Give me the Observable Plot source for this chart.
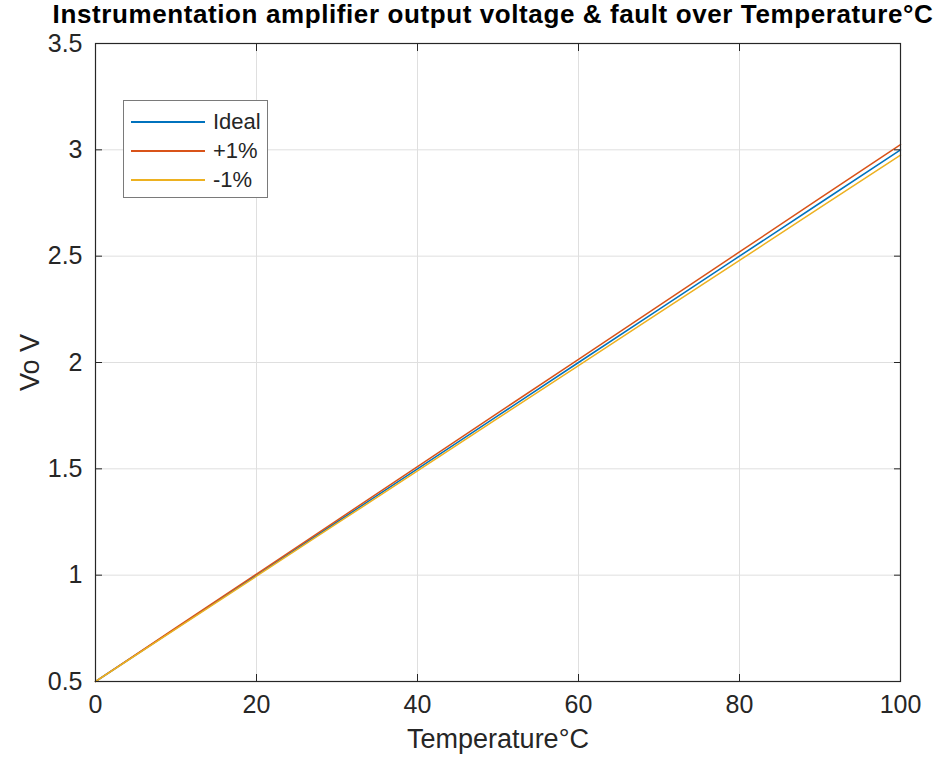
<!DOCTYPE html>
<html>
<head>
<meta charset="utf-8">
<script src="https://cdn.jsdelivr.net/npm/d3@7"></script>
<script src="https://cdn.jsdelivr.net/npm/@observablehq/plot@0.6"></script>
<style>
  html, body { margin: 0; padding: 0; background: #fff; }
  #wrap { position: relative; width: 943px; height: 760px; overflow: hidden; }
  #title { position: absolute; left: 0; top: 1px; width: 986px; text-align: center;
    font: bold 26px/26px "Liberation Sans", Arial, sans-serif; color: #000; white-space: nowrap;
    letter-spacing: 0.6px; }
  #chart { position: absolute; left: 0; top: 42px; }
  #legend { position: absolute; left: 123px; top: 100px; width: 145px; height: 98px;
    border: 1px solid #7a7a7a; background: #fff; box-sizing: border-box;
    font: 22px "Liberation Sans", Arial, sans-serif; color: #262626; }
  .item { position: absolute; left: 7px; height: 24px; display: flex; align-items: center; }
  .swatch { width: 74px; height: 1.5px; margin-right: 8px; }
</style>
</head>
<body>
<div id="wrap">
  <div id="title"></div>
  <div id="chart"></div>
  <div id="legend"></div>
</div>
<script>
const titleText = "Instrumentation amplifier output voltage & fault over Temperature°C";
const xLabel = "Temperature°C";
const yLabel = "Vo V";
const xTicks = [0, 20, 40, 60, 80, 100];
const yTicks = [0.5, 1, 1.5, 2, 2.5, 3, 3.5];

const temperature = [0, 10, 20, 30, 40, 50, 60, 70, 80, 90, 100];
const ideal = [0.5, 0.75, 1.0, 1.25, 1.5, 1.75, 2.0, 2.25, 2.5, 2.75, 3.0];
const plus1 = [0.5, 0.753, 1.005, 1.258, 1.51, 1.763, 2.015, 2.268, 2.52, 2.773, 3.025];
const minus1 = [0.5, 0.748, 0.995, 1.243, 1.49, 1.738, 1.985, 2.233, 2.48, 2.728, 2.975];

const seriesNames = ["Ideal", "+1%", "-1%"];
const seriesColors = ["#0072BD", "#D95319", "#EDB120"];
const seriesValues = [ideal, plus1, minus1];

const rows = [];
seriesNames.forEach((name, s) => {
  temperature.forEach((t, i) => rows.push({series: name, t, v: seriesValues[s][i]}));
});

document.getElementById("title").textContent = titleText;

const font = '"Liberation Sans", Arial, sans-serif';
const fmt = d3.format("~g");
const plot = Plot.plot({
  width: 943,
  height: 718,
  marginTop: 1,
  marginLeft: 95,
  marginRight: 43,
  marginBottom: 79,
  style: {fontFamily: font, fontSize: "25px", color: "#262626", background: "#fff", overflow: "visible"},
  x: {domain: [0, 100], ticks: xTicks, label: null},
  y: {domain: [0.5, 3.5], ticks: yTicks, label: null},
  color: {domain: seriesNames, range: seriesColors},
  marks: [
    Plot.gridX(xTicks, {stroke: "#dfdfdf", strokeOpacity: 1, strokeWidth: 1}),
    Plot.gridY(yTicks, {stroke: "#dfdfdf", strokeOpacity: 1, strokeWidth: 1}),
    Plot.line(rows, {x: "t", y: "v", z: "series", stroke: "series", strokeWidth: 1.5}),
    Plot.frame({stroke: "#262626", strokeWidth: 1.2}),
    Plot.axisX(xTicks, {anchor: "bottom", tickSize: -7, tickPadding: 21, tickFormat: fmt, stroke: "#262626", fill: "#262626", fontSize: 25, label: null}),
    Plot.axisX(xTicks, {anchor: "top", tickSize: -7, text: null, stroke: "#262626", label: null}),
    Plot.axisY(yTicks, {anchor: "left", tickSize: -7, tickPadding: 20, tickFormat: fmt, stroke: "#262626", fill: "#262626", fontSize: 25, label: null}),
    Plot.axisY(yTicks, {anchor: "right", tickSize: -7, text: null, stroke: "#262626", label: null}),
    Plot.text([xLabel], {frameAnchor: "bottom", dy: 66, fontSize: 27, fill: "#262626"}),
    Plot.text([yLabel], {frameAnchor: "left", dx: -65, rotate: -90, textAnchor: "middle", fontSize: 27, fill: "#262626"})
  ]
});
document.getElementById("chart").appendChild(plot);

const legend = document.getElementById("legend");
seriesNames.forEach((name, i) => {
  const item = document.createElement("div");
  item.className = "item";
  item.style.top = (9 + i * 29) + "px";
  const sw = document.createElement("div");
  sw.className = "swatch";
  sw.style.background = seriesColors[i];
  const tx = document.createElement("span");
  tx.textContent = name;
  item.appendChild(sw);
  item.appendChild(tx);
  legend.appendChild(item);
});
</script>
</body>
</html>
